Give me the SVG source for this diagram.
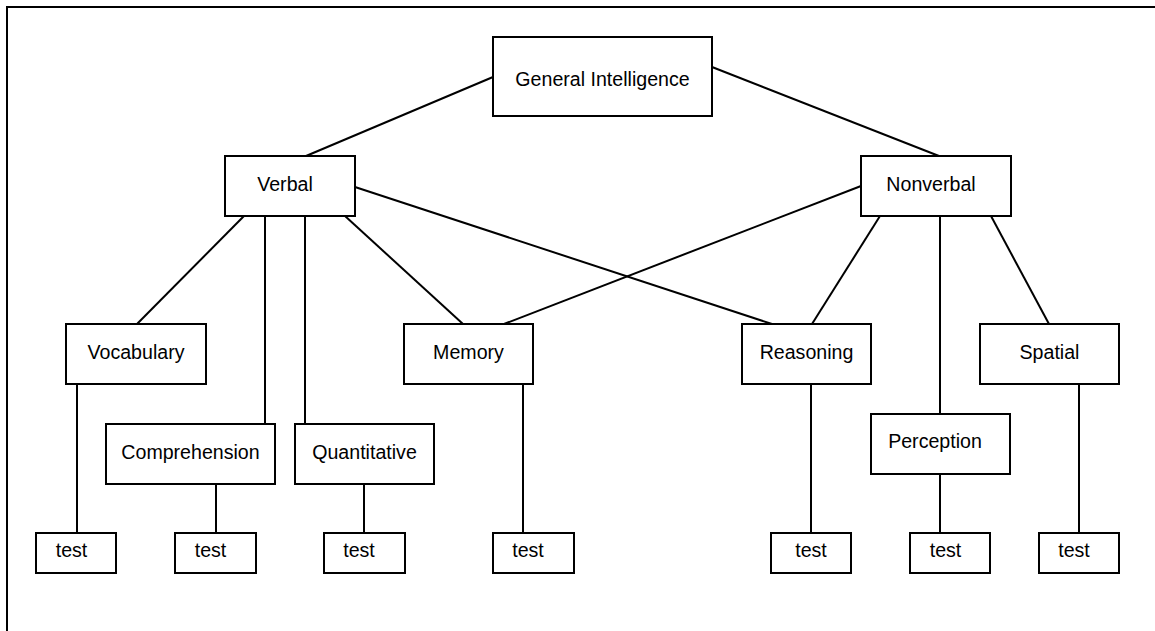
<svg xmlns="http://www.w3.org/2000/svg" width="1155" height="631" viewBox="0 0 1155 631">
<style>
.box{fill:#fff;stroke:#000;stroke-width:2}
.lbl{font-family:"Liberation Sans",Arial,sans-serif;font-size:19.6px;fill:#000;text-anchor:middle}
.ln{stroke:#000;stroke-width:2;fill:none}
</style>
<rect width="1155" height="631" fill="#fff"/>
<path class="ln" d="M7,700 V7 H1200"/>
<g id="connectors">
<line class="ln" x1="493" y1="77" x2="306" y2="156"/>
<line class="ln" x1="712" y1="67" x2="939" y2="156"/>
<line class="ln" x1="355" y1="187" x2="772" y2="324"/>
<line class="ln" x1="861" y1="186" x2="504" y2="324"/>
<line class="ln" x1="244" y1="216" x2="137" y2="324"/>
<line class="ln" x1="265" y1="216" x2="265" y2="424"/>
<line class="ln" x1="305" y1="216" x2="305" y2="424"/>
<line class="ln" x1="345" y1="216" x2="463" y2="324"/>
<line class="ln" x1="880" y1="216" x2="812" y2="324"/>
<line class="ln" x1="940" y1="216" x2="940" y2="414"/>
<line class="ln" x1="991" y1="216" x2="1049" y2="324"/>
<line class="ln" x1="77" y1="384" x2="77" y2="533"/>
<line class="ln" x1="216" y1="484" x2="216" y2="533"/>
<line class="ln" x1="364" y1="484" x2="364" y2="533"/>
<line class="ln" x1="523" y1="384" x2="523" y2="533"/>
<line class="ln" x1="811" y1="384" x2="811" y2="533"/>
<line class="ln" x1="940" y1="474" x2="940" y2="533"/>
<line class="ln" x1="1079" y1="384" x2="1079" y2="533"/>
</g>
<g id="general"><rect class="box" x="493" y="37" width="219" height="79"/><text class="lbl" x="602.5" y="86">General Intelligence</text></g>
<g id="verbal"><rect class="box" x="225" y="156" width="130" height="60"/><text class="lbl" x="285" y="191">Verbal</text></g>
<g id="nonverbal"><rect class="box" x="861" y="156" width="150" height="60"/><text class="lbl" x="931" y="191">Nonverbal</text></g>
<g id="vocabulary"><rect class="box" x="66" y="324" width="140" height="60"/><text class="lbl" x="136" y="359">Vocabulary</text></g>
<g id="memory"><rect class="box" x="404" y="324" width="129" height="60"/><text class="lbl" x="468.5" y="359">Memory</text></g>
<g id="reasoning"><rect class="box" x="742" y="324" width="129" height="60"/><text class="lbl" x="806.5" y="359">Reasoning</text></g>
<g id="spatial"><rect class="box" x="980" y="324" width="139" height="60"/><text class="lbl" x="1049.5" y="359">Spatial</text></g>
<g id="comprehension"><rect class="box" x="106" y="424" width="169" height="60"/><text class="lbl" x="190.5" y="459">Comprehension</text></g>
<g id="quantitative"><rect class="box" x="295" y="424" width="139" height="60"/><text class="lbl" x="364.5" y="459">Quantitative</text></g>
<g id="perception"><rect class="box" x="871" y="414" width="139" height="60"/><text class="lbl" x="935" y="448">Perception</text></g>
<g id="test1"><rect class="box" x="36" y="533" width="80" height="40"/><text class="lbl" x="71.5" y="557">test</text></g>
<g id="test2"><rect class="box" x="175" y="533" width="81" height="40"/><text class="lbl" x="210.5" y="557">test</text></g>
<g id="test3"><rect class="box" x="324" y="533" width="81" height="40"/><text class="lbl" x="359" y="557">test</text></g>
<g id="test4"><rect class="box" x="493" y="533" width="81" height="40"/><text class="lbl" x="528" y="557">test</text></g>
<g id="test5"><rect class="box" x="771" y="533" width="80" height="40"/><text class="lbl" x="811" y="557">test</text></g>
<g id="test6"><rect class="box" x="910" y="533" width="80" height="40"/><text class="lbl" x="945.5" y="557">test</text></g>
<g id="test7"><rect class="box" x="1039" y="533" width="80" height="40"/><text class="lbl" x="1074" y="557">test</text></g>
</svg>
